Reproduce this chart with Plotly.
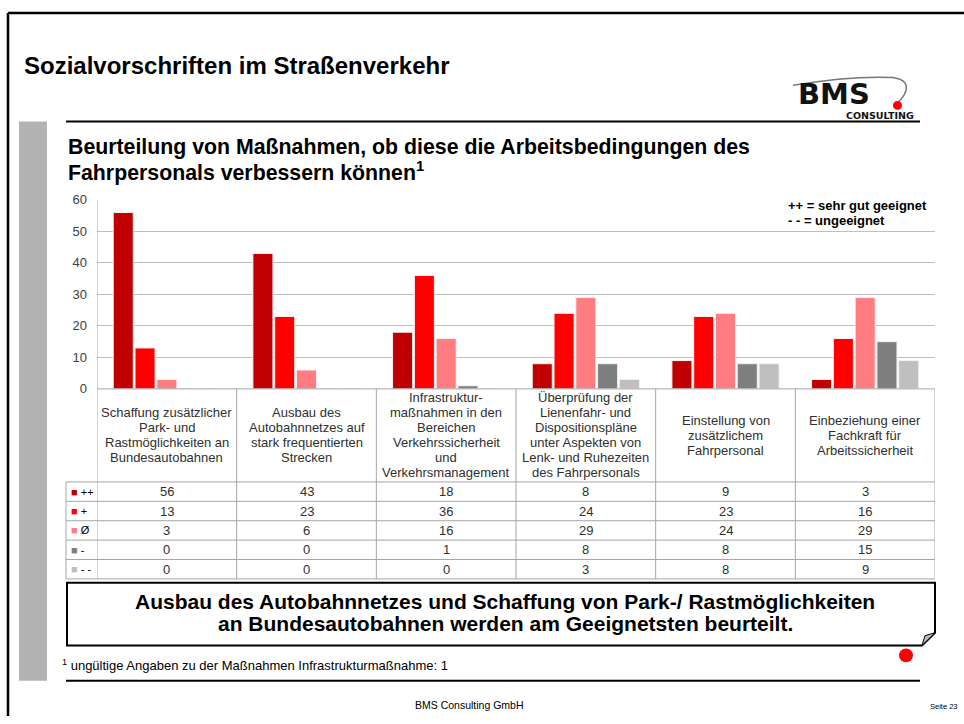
import plotly.graph_objects as go

# ---------------- data ----------------
categories = [
    "Schaffung zusätzlicher<br>Park- und<br>Rastmöglichkeiten an<br>Bundesautobahnen",
    "Ausbau des<br>Autobahnnetzes auf<br>stark frequentierten<br>Strecken",
    "Infrastruktur-<br>maßnahmen in den<br>Bereichen<br>Verkehrssicherheit<br>und<br>Verkehrsmanagement",
    "Überprüfung der<br>Lienenfahr- und<br>Dispositionspläne<br>unter Aspekten von<br>Lenk- und Ruhezeiten<br>des Fahrpersonals",
    "Einstellung von<br>zusätzlichem<br>Fahrpersonal",
    "Einbeziehung einer<br>Fachkraft für<br>Arbeitssicherheit",
]
series_names = ["++", "+", "Ø", "-", "- -"]
vals_pp = [56, 43, 18, 8, 9, 3]
vals_p = [13, 23, 36, 24, 23, 16]
vals_o = [3, 6, 16, 29, 24, 29]
vals_m = [0, 0, 1, 8, 8, 15]
vals_mm = [0, 0, 0, 3, 8, 9]
series_values = [vals_pp, vals_p, vals_o, vals_m, vals_mm]
series_colors = ["#C00000", "#FF0000", "#FF7C80", "#7F7F7F", "#BFBFBF"]
y_ticks = [0, 10, 20, 30, 40, 50, 60]

title_text = "Sozialvorschriften im Straßenverkehr"
subtitle_lines = ["Beurteilung von Maßnahmen, ob diese die Arbeitsbedingungen des",
                  "Fahrpersonals verbessern können<sup>1</sup>"]
key_lines = ["++ = sehr gut geeignet", "- - = ungeeignet"]
box_lines = ["Ausbau des Autobahnnetzes und Schaffung von Park-/ Rastmöglichkeiten",
             "an Bundesautobahnen werden am Geeignetsten beurteilt."]
footnote_text = "<sup>1</sup> ungültige Angaben zu der Maßnahmen Infrastrukturmaßnahme: 1"
footer_text = "BMS Consulting GmbH"
page_text = "Seite 23"

# ---------------- layout helpers ----------------
W, H = 964, 724
def X(px): return px / W
def Y(py): return 1 - py / H

FONT = "Liberation Sans, Arial, sans-serif"
PLOT_L, PLOT_R, PLOT_T, PLOT_B = 97, 935, 197, 390
TABLE_HDR_B = 485
ROW_H = 19.8
TABLE_B = TABLE_HDR_B + ROW_H * len(series_names)
GRID = "#BFBFBF"
TLINE = "#A6A6A6"

fig = go.Figure()
for name, vals, col in zip(series_names, series_values, series_colors):
    fig.add_trace(go.Bar(x=categories, y=vals, name=name, marker_color=col,
                         marker_line=dict(color="#F2F2F2", width=1), showlegend=False))

fig.update_layout(
    width=W, height=H, margin=dict(l=0, r=0, t=0, b=0),
    paper_bgcolor="white", plot_bgcolor="white",
    barmode="group", bargap=0.22, bargroupgap=0.08,
    font=dict(family=FONT, color="#262626"),
    xaxis=dict(domain=[X(PLOT_L), X(PLOT_R)], range=[-0.5, 5.5], showticklabels=False,
               showgrid=False, zeroline=False, showline=False, ticks=""),
    yaxis=dict(domain=[Y(PLOT_B), Y(PLOT_T)], range=[0, 60], tickvals=y_ticks,
               showgrid=True, gridcolor=GRID, gridwidth=1, zeroline=False, showline=False,
               ticks="", ticklabelstandoff=9, tickfont=dict(size=13, color="#404040")),
)

shapes = []
def line(x0, y0, x1, y1, color="black", width=1, xref="paper", yref="paper"):
    shapes.append(dict(type="line", x0=x0, y0=y0, x1=x1, y1=y1, xref=xref, yref=yref,
                       line=dict(color=color, width=width), layer="above"))

# outer frame
line(X(8), Y(6), X(964), Y(6), width=2.5)
line(X(8), Y(6), X(8), Y(724), width=2.5)
# grey side bar
shapes.append(dict(type="rect", xref="paper", yref="paper", x0=X(19), x1=X(47), y0=Y(117), y1=Y(688),
                   fillcolor="#B3B3B3", line=dict(width=0), layer="below"))
# header and footer rules
line(X(66), Y(117), X(920), Y(117), width=2)
line(X(66), Y(688), X(920), Y(688), width=2)

# table lines
n = len(categories)
line(-0.5, Y(PLOT_T), -0.5, Y(TABLE_B), color=TLINE, xref="x")
for i in range(n):
    line(i + 0.5, Y(PLOT_B), i + 0.5, Y(TABLE_B), color=TLINE, xref="x")
line(-0.5, Y(PLOT_B), n - 0.5, Y(PLOT_B), color=TLINE, xref="x")
line(X(66), Y(TABLE_HDR_B), X(66), Y(TABLE_B), color=TLINE)
for r in range(len(series_names) + 1):
    yy = TABLE_HDR_B + r * ROW_H
    line(X(66), Y(yy), X(PLOT_R), Y(yy), color=TLINE)

# message box with folded corner
bx0, by0, bx1, by1, fold = 67, 588, 935, 652, 13
def P(px, py): return f"{X(px):.5f},{Y(py):.5f}"
shapes.append(dict(type="path", xref="paper", yref="paper",
                   path=f"M{P(bx0,by0)} L{P(bx1,by0)} L{P(bx1,by1-fold)} L{P(bx1-fold,by1)} L{P(bx0,by1)} Z",
                   fillcolor="white", line=dict(color="black", width=2), layer="above"))
shapes.append(dict(type="path", xref="paper", yref="paper",
                   path=f"M{P(bx1-fold,by1)} L{P(bx1-10,by1-10)} L{P(bx1,by1-fold)} Z",
                   fillcolor="#BFBFBF", line=dict(color="black", width=1), layer="above"))
# red dot
shapes.append(dict(type="circle", xref="paper", yref="paper", x0=X(899), x1=X(913), y0=Y(655), y1=Y(669),
                   fillcolor="#FF0000", line=dict(width=0), layer="above"))
# logo swoosh and dot
shapes.append(dict(type="path", xref="paper", yref="paper",
                   path=f"M{P(793,80)} Q{P(850,70)} {P(893,72)} Q{P(912,75)} {P(904,90)} Q{P(901,95)} {P(898,97)}",
                   line=dict(color="#777777", width=1.5), layer="above"))
shapes.append(dict(type="circle", xref="paper", yref="paper", x0=X(893), x1=X(902), y0=Y(96), y1=Y(105),
                   fillcolor="#FF0000", line=dict(width=0), layer="above"))

annotations = []
def text(px, py, s, size, xanchor="left", bold=False, color="#000000", family=FONT, xref="paper", x=None, align="left"):
    annotations.append(dict(x=X(px) if x is None else x, y=Y(py), xref=xref, yref="paper", text=s,
                            showarrow=False, xanchor=xanchor, yanchor="middle", align=align,
                            font=dict(size=size, color=color, family=family,
                                      weight="bold" if bold else "normal")))

text(22, 60, title_text, 24, bold=True)
for k, s in enumerate(subtitle_lines):
    text(66, 143 + 25 * k, s, 21.3, bold=True)
for k, s in enumerate(key_lines):
    text(786, 203 + 15 * k, s, 13, bold=True)
text(834, 89, "BMS", 29, xanchor="center", bold=True, family="DejaVu Sans, sans-serif", color="#111111")
text(880, 111, "CONSULTING", 9.5, xanchor="center", bold=True, family="DejaVu Sans, sans-serif", color="#111111")

# category header cells (each line placed individually for tight line spacing)
LS = 15.3
for i, c in enumerate(categories):
    parts = c.split("<br>")
    mid = (PLOT_B + TABLE_HDR_B) / 2
    start = mid - LS * (len(parts) - 1) / 2
    for k, s in enumerate(parts):
        text(0, start + LS * k, s, 13, xanchor="center", xref="x", x=i, color="#303030")
# legend column + values
for r, (name, vals, col) in enumerate(zip(series_names, series_values, series_colors)):
    yc = TABLE_HDR_B + (r + 0.5) * ROW_H
    text(69, yc, f"<span style='color:{col}'>■</span> {name}", 11)
    for i, v in enumerate(vals):
        text(0, yc, str(v), 13, xanchor="center", xref="x", x=i, color="#303030")

for k, s in enumerate(box_lines):
    text(505, 607 + 23 * k, s, 21, xanchor="center", bold=True)
text(60, 672, footnote_text, 13)
text(469, 713, footer_text, 10.5, xanchor="center")
text(944, 714, page_text, 7.5, xanchor="center")

fig.update_layout(shapes=shapes, annotations=annotations)
fig.write_html("out.html", config={"displayModeBar": False},
               post_script="document.body.style.margin='0';")
